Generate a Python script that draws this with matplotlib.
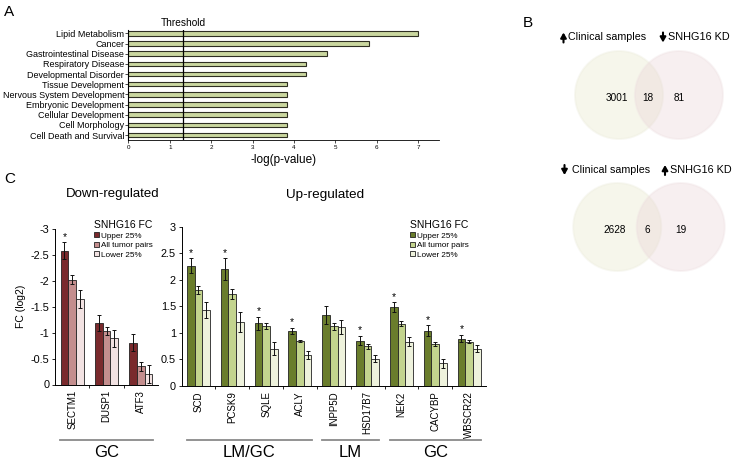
import matplotlib
matplotlib.use("Agg")
import matplotlib.pyplot as plt
from matplotlib.patches import Circle, Patch
import matplotlib.transforms as mtransforms
import numpy as np

plt.rcParams['font.family'] = ['Liberation Sans', 'DejaVu Sans']

W, H = 734, 462

# A: pathway enrichment
terms = ["Lipid Metabolism", "Cancer", "Gastrointestinal Disease", "Respiratory Disease",
         "Developmental Disorder", "Tissue Development", "Nervous System Development",
         "Embryonic Development", "Cellular Development", "Cell Morphology",
         "Cell Death and Survival"]
neg_log_p = [7.0, 5.8, 4.8, 4.3, 4.3, 3.82, 3.82, 3.82, 3.82, 3.82, 3.82]
threshold = 1.32

# B: venn counts (left only, overlap, right only)
venn_up = [3001, 18, 81]
venn_down = [2628, 6, 19]

# C: fold changes
legend_labels = ["Upper 25%", "All tumor pairs", "Lower 25%"]
down_genes = ["SECTM1", "DUSP1", "ATF3"]
down_upper = [-2.58, -1.19, -0.81]
down_upper_err = [0.16, 0.16, 0.17]
down_all = [-2.02, -1.03, -0.35]
down_all_err = [0.09, 0.07, 0.09]
down_lower = [-1.65, -0.89, -0.20]
down_lower_err = [0.17, 0.17, 0.17]
down_sig = [True, False, False]
down_groups = [("GC", 0, 3)]

up_genes = ["SCD", "PCSK9", "SQLE", "ACLY", "INPP5D", "HSD17B7", "NEK2", "CACYBP", "WBSCR22"]
up_upper = [2.26, 2.20, 1.18, 1.03, 1.33, 0.85, 1.48, 1.04, 0.89]
up_upper_err = [0.14, 0.20, 0.12, 0.06, 0.17, 0.09, 0.09, 0.10, 0.07]
up_all = [1.81, 1.73, 1.13, 0.84, 1.12, 0.74, 1.17, 0.79, 0.83]
up_all_err = [0.08, 0.09, 0.06, 0.02, 0.07, 0.04, 0.05, 0.04, 0.03]
up_lower = [1.43, 1.20, 0.70, 0.58, 1.11, 0.51, 0.83, 0.42, 0.70]
up_lower_err = [0.15, 0.19, 0.12, 0.07, 0.13, 0.07, 0.08, 0.08, 0.06]
up_sig = [True, True, True, True, False, True, True, True, True]
up_groups = [("LM/GC", 0, 4), ("LM", 4, 6), ("GC", 6, 9)]

red_cols = ["#7a2a2d", "#c48e8e", "#f2e2e2"]
green_cols = ["#6a7d2c", "#c3d48e", "#eef2dc"]

fig = plt.figure(figsize=(W / 100, H / 100), dpi=100)


def px_axes(x0, y0, x1, y1):
    return fig.add_axes([x0 / W, 1 - y1 / H, (x1 - x0) / W, (y1 - y0) / H])


def fig_text(x, y, s, **kw):
    fig.text(x / W, 1 - y / H, s, **kw)


# overlay for the little arrows in the venn titles
ov = px_axes(0, 0, W, H)
ov.set_xlim(0, W)
ov.set_ylim(H, 0)
ov.axis("off")


def title_arrow(x, y, up):
    tip, tail = (y - 5, y + 5) if up else (y + 5, y - 5)
    ov.annotate("", xy=(x, tip), xytext=(x, tail),
                arrowprops=dict(arrowstyle="-|>,head_width=0.17,head_length=0.3",
                                lw=1.5, color="black", shrinkA=0, shrinkB=0))


# ---- panel A ----
axA = px_axes(128.3, 30, 439, 140)
ypos = np.arange(len(terms))[::-1]
axA.barh(ypos, neg_log_p, height=0.45, color="#cad79f", edgecolor="#2e2e22", linewidth=0.8)
axA.axvline(threshold, color="black", linewidth=0.9)
axA.set_xlim(0, 7.5)
axA.set_ylim(-0.49, 10.33)
axA.set_yticks(ypos)
axA.set_yticklabels(terms, fontsize=6.5)
axA.set_xticks(range(8))
axA.tick_params(axis="x", labelsize=4.5, length=2, width=0.5, pad=1.5)
axA.tick_params(axis="y", length=2, width=0.5, pad=1)
for s in ["top", "right"]:
    axA.spines[s].set_visible(False)
axA.spines["left"].set_linewidth(0.8)
axA.spines["bottom"].set_linewidth(0.6)
axA.text(threshold, 1.02, "Threshold", transform=axA.get_xaxis_transform(),
         ha="center", va="bottom", fontsize=7.3)
axA.set_xlabel("-log(p-value)", fontsize=8.5, labelpad=3)
fig_text(4, 12, "A", fontsize=11, va="center")

# ---- panel B ----
def venn(ax, counts, d):
    ax.set_xlim(-2.02, 1.93)
    ax.set_ylim(-1.136, 1.136)
    ax.axis("off")
    ax.add_patch(Circle((-d / 2, 0), 1, facecolor=(0.91, 0.91, 0.80), alpha=0.38,
                        edgecolor=(0.93, 0.93, 0.87), linewidth=1.4))
    ax.add_patch(Circle((d / 2, 0), 1, facecolor=(0.91, 0.82, 0.83), alpha=0.33,
                        edgecolor=(0.93, 0.87, 0.88), linewidth=1.4))
    xs = [-d / 2 - 0.05, -0.03, d / 2 - 0.0]
    for x, c in zip(xs, counts):
        ax.text(x, -0.07, str(c), ha="center", va="center", fontsize=7.2)


axB1 = px_axes(560, 45, 734, 145)
venn(axB1, venn_up, 1.36)
axB2 = px_axes(560, 177, 734, 277)
venn(axB2, venn_down, 1.44)
fig_text(523, 23, "B", fontsize=11, va="center")

fig_text(568.5, 37.5, "Clinical samples", fontsize=7.7, va="center")
title_arrow(563.5, 37.5, True)
fig_text(667.5, 37.5, "SNHG16 KD", fontsize=7.8, va="center")
title_arrow(663, 37.5, False)
fig_text(571.5, 170, "Clinical samples", fontsize=7.7, va="center")
title_arrow(564.5, 170, False)
fig_text(669.5, 170, "SNHG16 KD", fontsize=7.8, va="center")
title_arrow(665, 170, True)

# ---- panel C ----
def fc_panel(ax, genes, vals, errs, sig, cols, groups, line_y, label_y):
    n = len(genes)
    x = np.arange(n) + 0.5
    w = 0.225
    for k in range(3):
        ax.bar(x + (k - 1) * w, vals[k], width=w, color=cols[k], edgecolor="#222222",
               linewidth=0.6, yerr=errs[k], capsize=1.6,
               error_kw=dict(elinewidth=0.7, capthick=0.7, ecolor="#111111"))
    for i in range(n):
        if sig[i]:
            v = vals[0][i]
            top = v + np.sign(v) * errs[0][i]
            ax.annotate("*", (x[i] - w, top), xytext=(0, 0.5), textcoords="offset points",
                        ha="center", va="bottom", fontsize=7.5)
    ax.set_xlim(0, n)
    ax.set_xticks(x)
    ax.set_xticklabels(genes, rotation=90, fontsize=7)
    ax.set_xticks(np.arange(1, n), minor=True)
    ax.tick_params(axis="x", which="major", length=0, pad=4)
    ax.tick_params(axis="x", which="minor", length=2.5, width=0.6)
    ax.tick_params(axis="y", length=2.5, width=0.6, labelsize=7.8, pad=1.5)
    for s in ["top", "right"]:
        ax.spines[s].set_visible(False)
    ax.spines["left"].set_linewidth(0.7)
    ax.spines["bottom"].set_linewidth(0.7)
    tr = mtransforms.blended_transform_factory(ax.transData, ax.transAxes)
    for name, a, b in groups:
        ax.plot([a + 0.15, b - 0.15], [line_y, line_y], color="#8a8a8a", linewidth=1.3,
                transform=tr, clip_on=False)
        ax.text((a + b) / 2, label_y, name, transform=tr, ha="center", va="center",
                fontsize=12)
    leg = ax.legend(handles=[Patch(facecolor=c, edgecolor="#222222", linewidth=0.6) for c in cols],
                    labels=legend_labels, title="SNHG16 FC", loc="upper left",
                    frameon=False, fontsize=5.9, title_fontsize=7.5, handlelength=0.6,
                    handleheight=0.6, handletextpad=0.2, labelspacing=0.25, borderpad=0,
                    borderaxespad=0, alignment="left")
    return leg


axL = px_axes(55, 229, 158, 384.5)
legL = fc_panel(axL, down_genes, [down_upper, down_all, down_lower],
                [down_upper_err, down_all_err, down_lower_err], down_sig, red_cols,
                down_groups, -0.357, -0.436)
axL.set_ylim(0, -3)
axL.set_yticks(np.arange(0, -3.01, -0.5))
axL.set_yticklabels(["0", "-0.5", "-1", "-1.5", "-2", "-2.5", "-3"])
axL.set_ylabel("FC (log2)", fontsize=7.5, labelpad=3)
legL.set_bbox_to_anchor((94 / W, 1 - 220 / H), transform=fig.transFigure)

axR = px_axes(181.5, 226.7, 486, 385.7)
legR = fc_panel(axR, up_genes, [up_upper, up_all, up_lower],
                [up_upper_err, up_all_err, up_lower_err], up_sig, green_cols,
                up_groups, -0.341, -0.417)
axR.set_ylim(0, 3)
axR.set_yticks(np.arange(0, 3.01, 0.5))
axR.set_yticklabels(["0", "0.5", "1", "1.5", "2", "2.5", "3"])
legR.set_bbox_to_anchor((410 / W, 1 - 220 / H), transform=fig.transFigure)

fig_text(113, 194, "Down-regulated", fontsize=9.5, ha="center", va="center")
fig_text(325, 195, "Up-regulated", fontsize=9.7, ha="center", va="center")
fig_text(4, 179, "C", fontsize=11, va="center")

fig.savefig("out.png", dpi=100)
